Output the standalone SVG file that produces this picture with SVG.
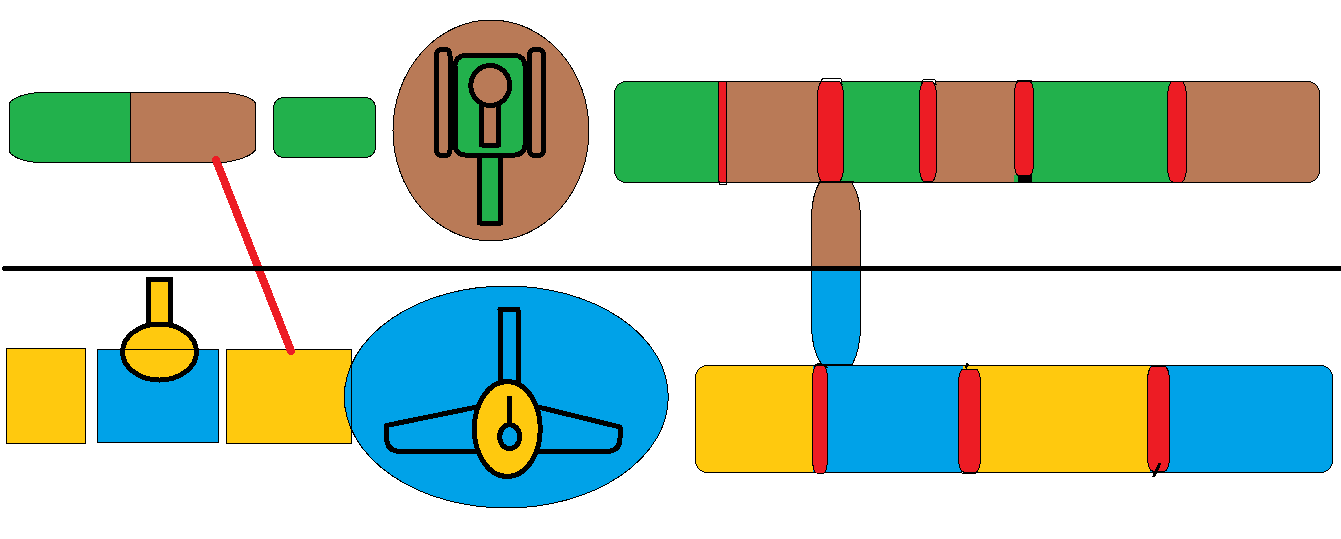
<svg xmlns="http://www.w3.org/2000/svg" width="1341" height="539" viewBox="0 0 1341 539" shape-rendering="crispEdges">
<style>
.g{fill:#22B14C}.b{fill:#B97A57}.y{fill:#FFC90E}.s{fill:#00A2E8}
.o{stroke:#000;stroke-width:1}
.n{fill:none;stroke:#000;stroke-width:1}
.k{stroke:#000;stroke-width:5;stroke-linejoin:round}
.kn{fill:none;stroke:#000;stroke-width:5;stroke-linejoin:round;stroke-linecap:round}
.r{fill:#ED1C24;stroke:#000;stroke-width:1}
.w{fill:#fff;stroke:#000;stroke-width:1}
</style>
<rect width="1341" height="539" fill="#fff"/>

<g id="top-split-bar">
<path class="g" d="M130.5,92.5H38Q15,95 9.5,103V152Q15,160 36,162.5H130.5Z"/>
<path class="b" d="M130.5,92.5H225Q250,95 255.5,103V150Q250,158 225,162.5H130.5Z"/>
<path class="n" d="M38,92.5H225Q250,95 255.5,103V150Q250,158 225,162.5H36Q15,160 9.5,152V103Q15,95 38,92.5ZM130.5,92.5V162.5"/>
</g>

<g id="top-green-block">
<rect class="g o" x="273.5" y="97.5" width="102" height="60" rx="10" ry="10"/>
</g>

<g id="top-tank-badge">
<ellipse class="b o" cx="491" cy="130.5" rx="98" ry="110.5"/>
<rect class="g k" x="479.5" y="152" width="21" height="71"/>
<rect class="b k" x="436.5" y="49.5" width="13.5" height="106" rx="4" ry="6"/>
<rect class="b k" x="529.5" y="49.5" width="14" height="106" rx="4" ry="6"/>
<rect class="g k" x="455" y="55.5" width="70" height="99.5" rx="10" ry="10"/>
<rect class="b k" x="481.5" y="104" width="17" height="41"/>
<ellipse class="b k" cx="490.3" cy="85.5" rx="19.5" ry="20"/>
</g>

<g id="top-long-bar">
<path class="g" d="M718.5,81.5H626.5Q614.5,81.5 614.5,93.5V170.5Q614.5,182.5 626.5,182.5H718.5Z"/>
<rect class="b" x="718" y="81.5" width="102" height="101"/>
<rect class="g" x="820" y="81.5" width="105" height="101"/>
<rect class="b" x="925" y="81.5" width="92" height="101"/>
<rect class="g" x="1017" y="81.5" width="153" height="101"/>
<path class="b" d="M1170,81.5H1307.5Q1319.5,81.5 1319.5,93.5V170.5Q1319.5,182.5 1307.5,182.5H1170Z"/>
<rect class="n" x="614.5" y="81.5" width="705" height="101" rx="12" ry="12"/>
<rect class="w" x="719.5" y="181" width="7" height="3.5"/>
<rect class="r" x="718.5" y="81.5" width="8" height="100.5" rx="1" ry="4"/>
<path class="w" d="M820.5,84Q820.5,78.5 824,78.5H840Q841.5,78.5 842,84Z"/>
<rect class="r" x="817.5" y="81.5" width="26" height="100" rx="5" ry="15"/>
<path class="w" d="M921.5,84Q922,79.5 924,79.5H934Q935.5,79.5 936,84Z"/>
<rect class="r" x="919.5" y="81.5" width="17" height="100" rx="5" ry="15"/>
<rect x="1016.5" y="80" width="15" height="3" fill="#000"/>
<rect class="g" x="1014" y="175" width="6" height="7"/>
<rect class="r" x="1014.5" y="81.5" width="19" height="94" rx="4" ry="12"/>
<rect x="1017.5" y="175" width="14.5" height="7" fill="#000"/>
<rect class="r" x="1167.5" y="81.5" width="19" height="100.5" rx="5" ry="16"/>
</g>

<g id="bottom-yellow-block">
<rect class="y o" x="6.5" y="348.5" width="79" height="95"/>
</g>

<g id="bottom-blue-block">
<rect class="s o" x="97.5" y="349.5" width="121" height="93"/>
</g>

<g id="bottom-yellow-block-2">
<rect class="y o" x="226.5" y="349.5" width="125" height="94"/>
</g>

<g id="bottom-gun-turret">
<rect class="y k" x="148.5" y="279" width="22" height="46" stroke-linejoin="miter"/>
<ellipse class="y k" cx="159.5" cy="352" rx="37" ry="28"/>
<path class="n" d="M124,349.5H195"/>
</g>

<g id="bottom-plane-badge">
<ellipse class="s o" cx="506.3" cy="397" rx="162" ry="111"/>
<path class="n" d="M351.5,349.5V443.5"/>
<rect class="s k" x="500" y="309.5" width="18" height="74"/>
<path class="kn" d="M477,407L386.5,425.5V437Q386.5,451.5 401,451.5H478"/>
<path class="kn" d="M538,407L620,427V438Q620,451.5 606,451.5H538"/>
<ellipse class="y k" cx="507.3" cy="429" rx="33" ry="47.5"/>
<path class="kn" d="M509.5,398V425"/>
<ellipse class="s k" cx="509.7" cy="436.7" rx="10" ry="12"/>
</g>

<g id="bottom-long-bar">
<path class="y" d="M813,365.5H708Q696,365.5 696,377.5V460.5Q696,472.5 708,472.5H813Z"/>
<rect class="s" x="813" y="365.5" width="150" height="107"/>
<rect class="y" x="963" y="365.5" width="187" height="107"/>
<path class="s" d="M1150,365.5H1320Q1332.5,365.5 1332.5,377.5V460.5Q1332.5,472.5 1320,472.5H1150Z"/>
<rect class="n" x="695.5" y="365.5" width="637" height="107" rx="12" ry="12"/>
<path class="w" d="M815.5,367Q816,363.5 818,363.5H825Q826.5,363.5 827,367Z"/>
<rect class="r" x="812.5" y="365.5" width="15" height="107.5" rx="4" ry="14"/>
<path class="w" d="M961,470H977.5Q977,473.5 975,473.5H963Q961.5,473.5 961,470Z"/>
<rect class="r" x="958.5" y="369" width="22" height="103" rx="5" ry="14"/>
<rect class="r" x="1147.5" y="366.5" width="22" height="104.5" rx="5" ry="14"/>
<path fill="none" stroke="#000" stroke-width="3" d="M965.5,368L968,363.5"/>
<path fill="none" stroke="#000" stroke-width="3" d="M1160,463L1153.5,477"/>
</g>

<g id="connectors">
<path class="b" d="M820,181.5H851Q860.5,195 860.5,220V268H811.5V220Q811.5,195 820,181.5Z"/>
<path class="s" d="M811.5,268H860.5V325Q860.5,350 852,365H822Q811.5,350 811.5,325Z"/>
<path class="n" d="M811.5,268V220Q811.5,195 820,181.5H851Q860.5,195 860.5,220V325Q860.5,350 852,365H822Q811.5,350 811.5,325Z"/>
<path fill="none" stroke="#000" stroke-width="2" d="M820,181.5H854M815,365H853"/>
<path d="M216,160L291,351" fill="none" stroke="#ED1C24" stroke-width="8" stroke-linecap="round"/>
<path d="M4.5,268.5H1341" fill="none" stroke="#000" stroke-width="5" stroke-linecap="round"/>
</g>
</svg>
